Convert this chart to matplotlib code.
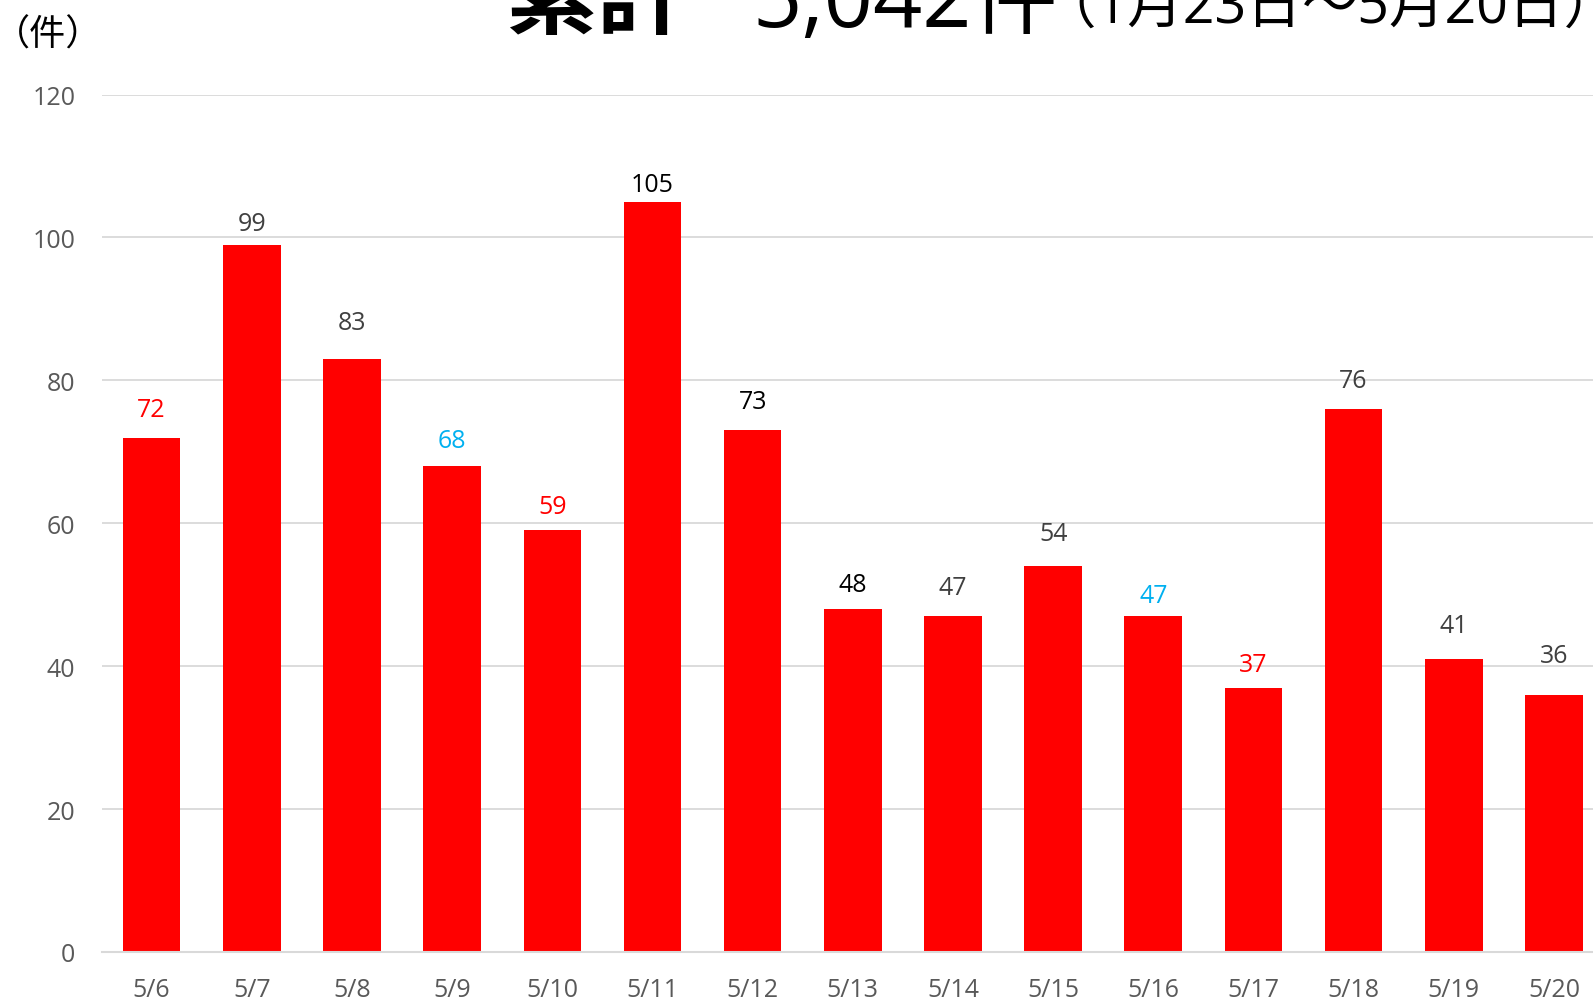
import matplotlib
matplotlib.use("Agg")
import matplotlib.pyplot as plt
import numpy as np

plt.rcParams['font.family'] = ['Open Sans', 'Noto Sans CJK JP', 'DejaVu Sans']

# daily counts
dates = ["5/6", "5/7", "5/8", "5/9", "5/10", "5/11", "5/12", "5/13",
         "5/14", "5/15", "5/16", "5/17", "5/18", "5/19", "5/20"]
counts = [72, 99, 83, 68, 59, 105, 73, 48, 47, 54, 47, 37, 76, 41, 36]
yticks = [0, 20, 40, 60, 80, 100, 120]

# label colours as in the original (red / blue / black / grey)
label_colors = ["#FF0000", "#404040", "#404040", "#00B0F0", "#FF0000",
                "#000000", "#000000", "#000000", "#404040", "#404040",
                "#00B0F0", "#FF0000", "#404040", "#404040", "#404040"]
# labels were placed by hand in the source, gap above bar top (px)
label_gap = [28, 21, 36, 25, 24, 17, 28, 24, 28, 32, 20, 23, 28, 33, 39]

W, H = 1593, 1003
fig = plt.figure(figsize=(W / 100, H / 100), dpi=100)
ax = fig.add_axes([101.6 / W, 1 - 953 / H, 1 - 101.6 / W, (953 - 95.5) / H])

x = np.arange(len(dates))
ax.bar(x, counts, width=0.575, color="#FF0000", zorder=2)

for i, v in enumerate(counts):
    ax.annotate(str(v), (x[i], v), xytext=(0, label_gap[i] * 0.73),
                textcoords="offset points", ha="center", va="center",
                fontsize=18, color=label_colors[i])

ax.set_ylim(0, 120)
ax.set_xlim(-0.5, 14.39)
ax.set_yticks(yticks)
ax.set_xticks(x, dates)
ax.yaxis.grid(True, color="#D9D9D9", linewidth=1.3, zorder=0)
ax.set_axisbelow(True)
for s in ["top", "right", "left"]:
    ax.spines[s].set_visible(False)
ax.spines["bottom"].set_color("#D9D9D9")
ax.spines["bottom"].set_linewidth(1.5)
ax.tick_params(axis="both", length=0, labelsize=18, colors="#595959")
ax.tick_params(axis="y", pad=19)
ax.tick_params(axis="x", pad=18)

# title, cut off at the top edge as in the source image
ty = 1 - 27 / H
fig.text(505 / W, ty, "累計", fontsize=66, fontweight="bold", color="black",
         ha="left", va="baseline")
fig.text(752 / W, ty, "5,042件", fontsize=62, color="black",
         ha="left", va="baseline")
fig.text(1040 / W, 1 - 23 / H, "（1月23日～5月20日）", fontsize=40, color="black",
         ha="left", va="baseline")
fig.text(48 / W, 1 - 46 / H, "（件）", fontsize=26, color="black",
         ha="center", va="baseline")

fig.savefig("out.png", dpi=100)
